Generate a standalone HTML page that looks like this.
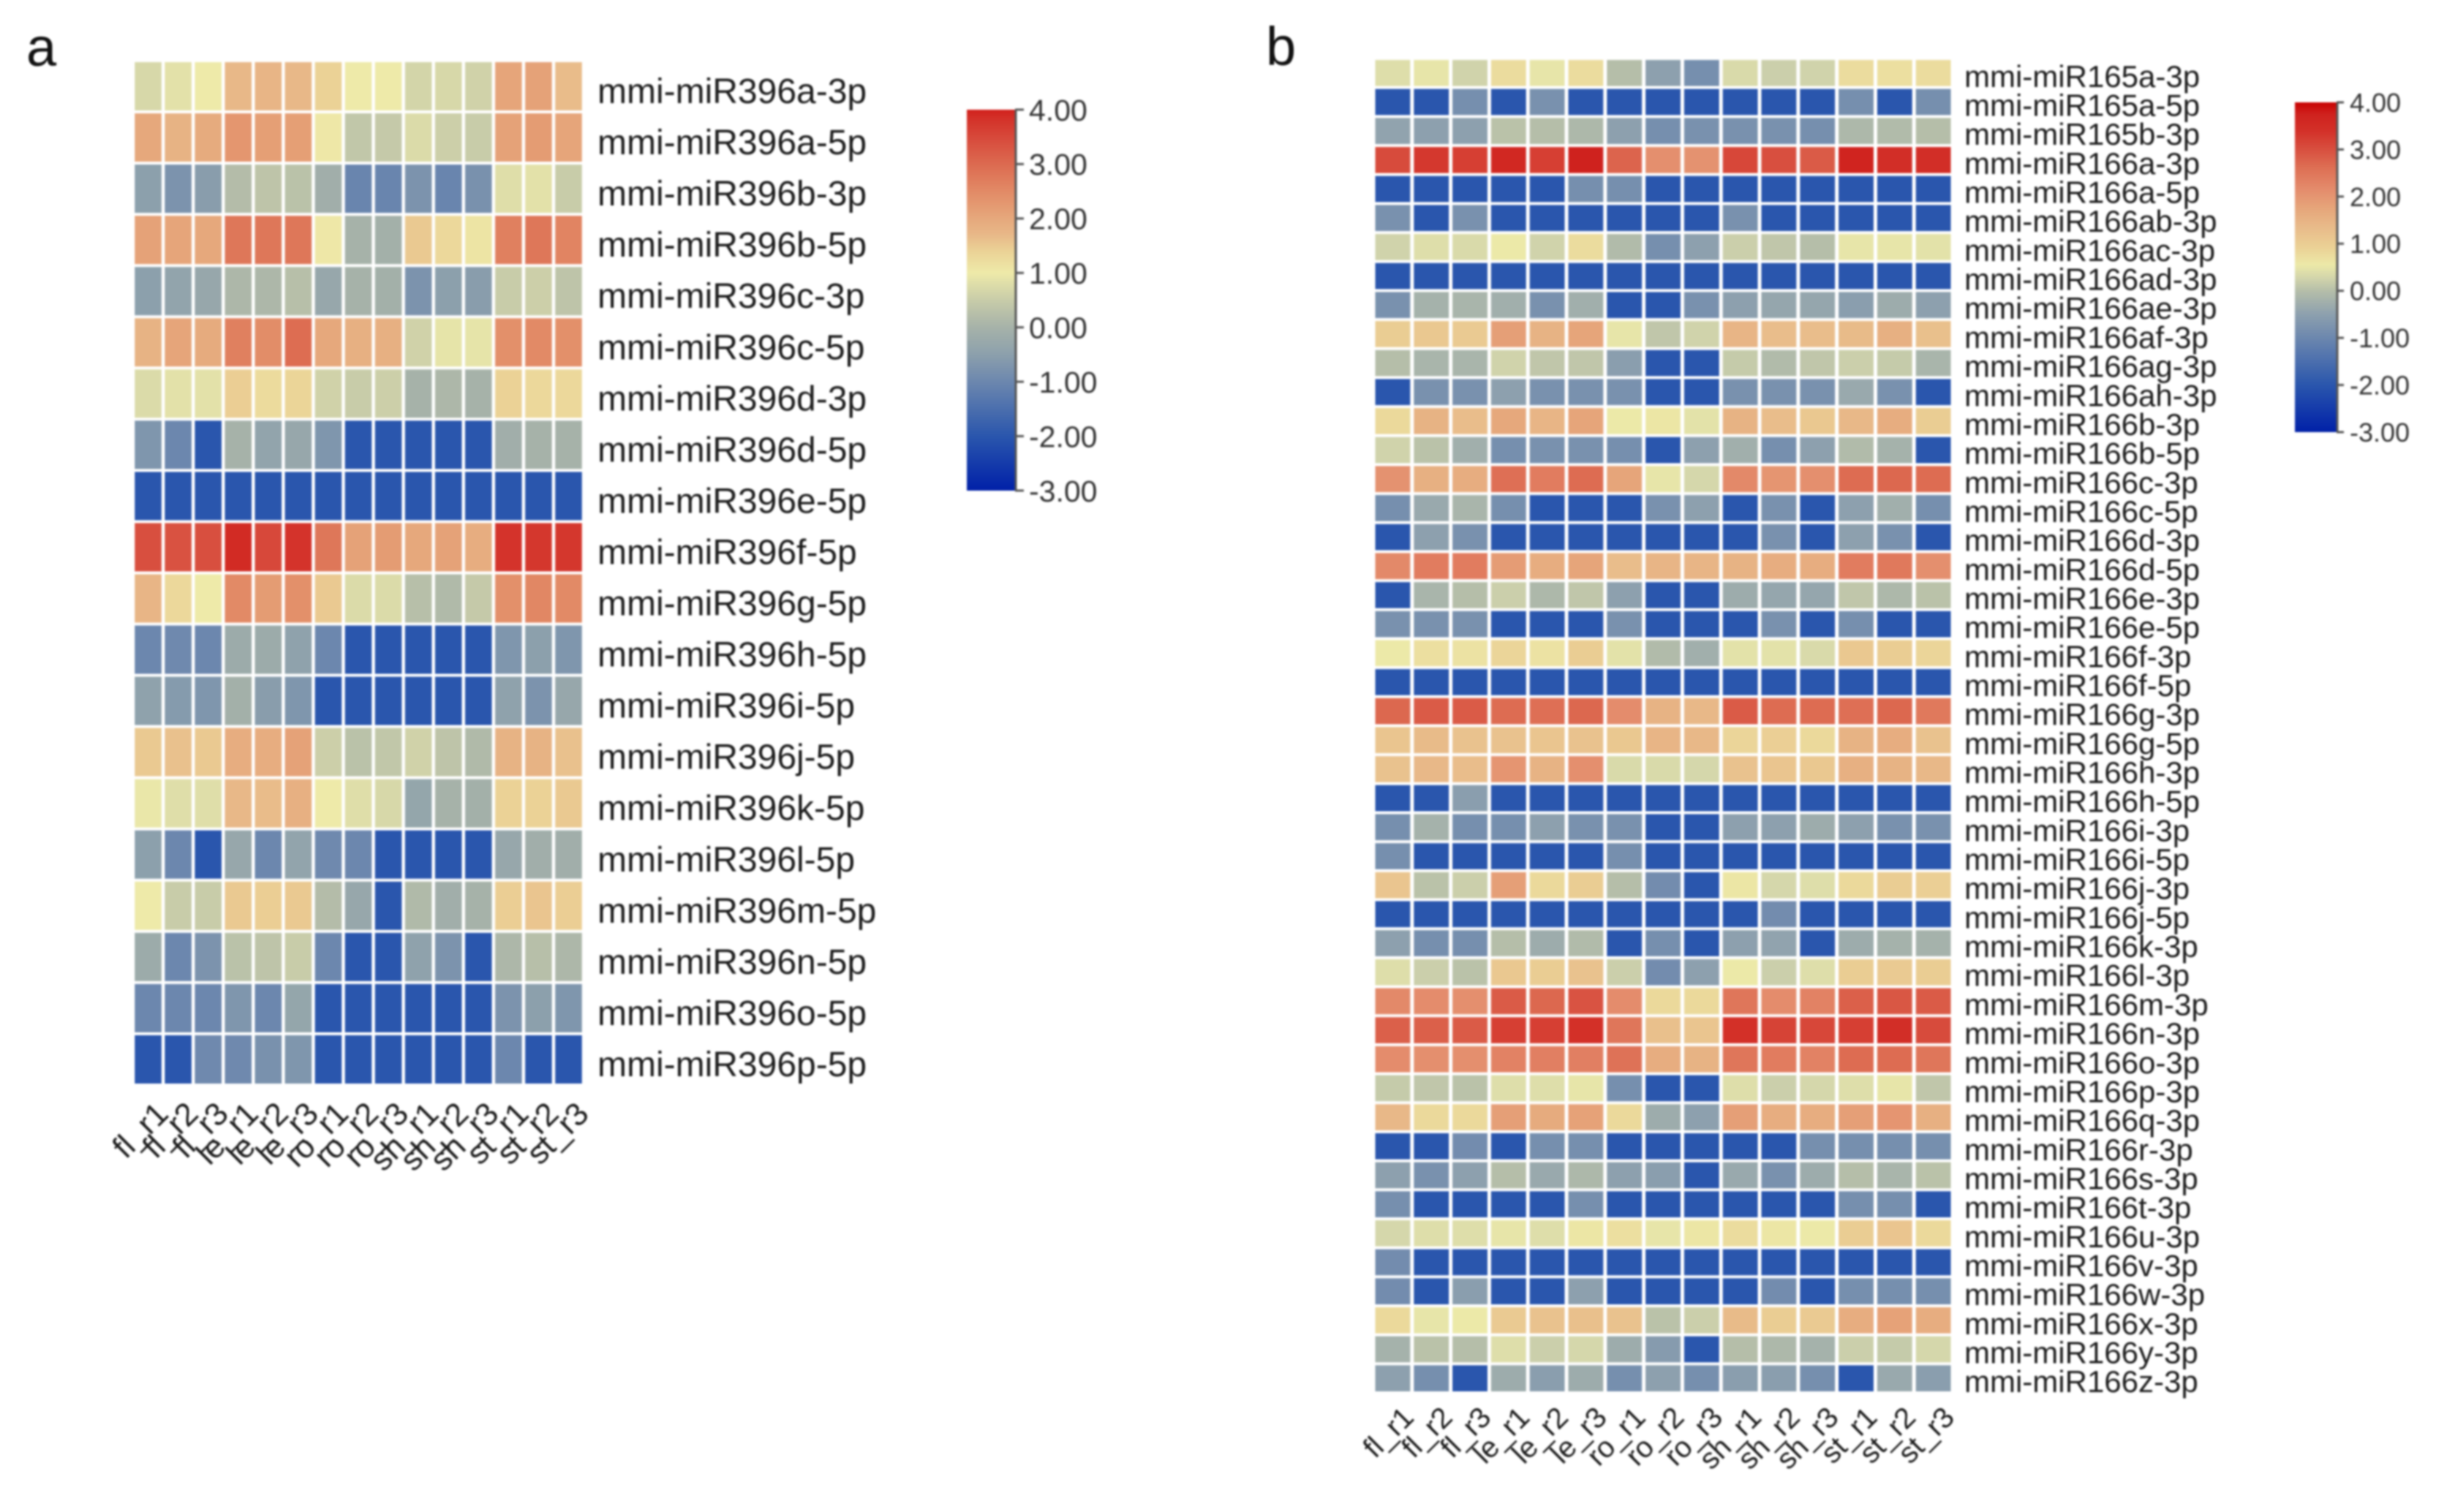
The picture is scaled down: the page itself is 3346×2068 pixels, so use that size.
<!DOCTYPE html>
<html lang="en">
<head>
<meta charset="utf-8">
<title>miR396 and miR165/166 expression heatmaps</title>
<style>
  html, body { margin: 0; padding: 0; background: #fff; }
  body { width: 3346px; height: 2068px; overflow: hidden; }
  svg { display: block; filter: blur(1.4px); }
  text { font-family: "Liberation Sans", sans-serif; }
</style>
</head>
<body>
<svg id="figure" xmlns="http://www.w3.org/2000/svg" width="3346" height="2068" viewBox="0 0 3346 2068">
  <rect x="0" y="0" width="3346" height="2068" fill="#ffffff"/>
  <text x="36" y="90" font-size="74" fill="#111">a</text>
  <text x="1731" y="89" font-size="74" fill="#111">b</text>
</svg>
<script>
const samples = ['fl_r1','fl_r2','fl_r3','le_r1','le_r2','le_r3','ro_r1','ro_r2','ro_r3','sh_r1','sh_r2','sh_r3','st_r1','st_r2','st_r3'];
const legendTicks = [4, 3, 2, 1, 0, -1, -2, -3];

const rowsA = ['mmi-miR396a-3p','mmi-miR396a-5p','mmi-miR396b-3p','mmi-miR396b-5p','mmi-miR396c-3p','mmi-miR396c-5p','mmi-miR396d-3p','mmi-miR396d-5p','mmi-miR396e-5p','mmi-miR396f-5p','mmi-miR396g-5p','mmi-miR396h-5p','mmi-miR396i-5p','mmi-miR396j-5p','mmi-miR396k-5p','mmi-miR396l-5p','mmi-miR396m-5p','mmi-miR396n-5p','mmi-miR396o-5p','mmi-miR396p-5p'];
const valuesA = [
[.7,.85,1,1.7,1.75,1.7,1.4,1,1,.65,.7,.6,2.05,2.1,1.65],
[2,1.8,1.95,2.3,2.15,2.15,1.05,.4,.45,.75,.55,.5,2.1,2.2,2.05],
[-.5,-.75,-.55,.2,.35,.3,-.1,-1.05,-1.05,-.75,-1.05,-.8,.8,.85,.5],
[2.1,2.05,2,2.8,2.8,2.8,1.05,0,-.05,1.5,1.3,1.1,2.65,2.8,2.6],
[-.5,-.4,-.3,.1,.1,.25,-.3,0,-.05,-.75,-.5,-.55,.5,.55,.35],
[1.8,2.05,1.95,2.65,2.45,2.95,2,1.85,1.85,.6,.9,.9,2.4,2.5,2.4],
[.75,.85,.85,1.45,1.25,1.35,.6,.5,.55,0,.1,0,1.4,1.3,1.3],
[-.7,-1,-2,0,-.4,-.3,-.7,-2,-2,-2,-2,-2,-.1,0,0],
[-2,-2,-2,-2,-2,-2,-2,-2,-2,-2,-2,-2,-2,-2,-2],
[3.4,3.35,3.4,3.9,3.5,3.8,2.8,2.1,2.2,2,2.1,1.9,3.8,3.75,3.75],
[1.75,1.3,1,2.5,2.2,2.4,1.5,.75,.75,.25,.15,.45,2.4,2.55,2.5],
[-1,-.95,-1,-.2,-.2,-.45,-1,-2,-2,-2,-2,-2,-.7,-.5,-.7],
[-.45,-.6,-.7,-.05,-.55,-.7,-2,-2,-2,-2,-2,-2,-.45,-.75,-.3],
[1.5,1.6,1.5,1.9,1.9,2.1,.55,.3,.4,.6,.35,.15,1.8,1.8,1.6],
[.95,.8,.8,1.7,1.65,1.85,1,.8,.7,-.35,0,-.05,1.4,1.4,1.5],
[-.5,-1,-2,-.3,-1,-.4,-.95,-1,-2,-2,-2,-2,-.3,-.1,-.1],
[1,.5,.5,1.5,1.45,1.5,.2,-.3,-2,.15,-.1,0,1.45,1.55,1.45],
[-.2,-1,-.75,.3,.35,.5,-1,-2,-2,-.45,-.75,-2,.1,.25,.1],
[-1,-1,-1,-.7,-1,-.35,-2,-2,-2,-2,-2,-2,-.75,-.5,-.7],
[-2,-2,-.95,-.95,-.8,-.7,-2,-2,-2,-2,-2,-2,-1,-2,-2]
];

const rowsB = ['mmi-miR165a-3p','mmi-miR165a-5p','mmi-miR165b-3p','mmi-miR166a-3p','mmi-miR166a-5p','mmi-miR166ab-3p','mmi-miR166ac-3p','mmi-miR166ad-3p','mmi-miR166ae-3p','mmi-miR166af-3p','mmi-miR166ag-3p','mmi-miR166ah-3p','mmi-miR166b-3p','mmi-miR166b-5p','mmi-miR166c-3p','mmi-miR166c-5p','mmi-miR166d-3p','mmi-miR166d-5p','mmi-miR166e-3p','mmi-miR166e-5p','mmi-miR166f-3p','mmi-miR166f-5p','mmi-miR166g-3p','mmi-miR166g-5p','mmi-miR166h-3p','mmi-miR166h-5p','mmi-miR166i-3p','mmi-miR166i-5p','mmi-miR166j-3p','mmi-miR166j-5p','mmi-miR166k-3p','mmi-miR166l-3p','mmi-miR166m-3p','mmi-miR166n-3p','mmi-miR166o-3p','mmi-miR166p-3p','mmi-miR166q-3p','mmi-miR166r-3p','mmi-miR166s-3p','mmi-miR166t-3p','mmi-miR166u-3p','mmi-miR166v-3p','mmi-miR166w-3p','mmi-miR166x-3p','mmi-miR166y-3p','mmi-miR166z-3p'];
const valuesB = [
[.4,.5,.25,.75,.5,.75,0,-.5,-.85,.35,.2,.25,.75,.7,.75],
[-2,-2,-.85,-2,-.8,-2,-2,-2,-2,-2,-2,-2,-.85,-2,-.85],
[-.45,-.5,-.5,.05,0,-.1,-.5,-.85,-.8,-.8,-.8,-.85,-.1,-.05,0],
[3.05,3.3,3.2,3.6,3.2,3.75,2.75,2.1,2.05,3.1,3,2.85,3.7,3.45,3.45],
[-2,-2,-2,-2,-2,-.85,-.85,-2,-2,-2,-2,-2,-2,-2,-2],
[-.8,-2,-.8,-2,-2,-2,-2,-2,-2,-.8,-2,-2,-2,-2,-2],
[.25,.4,.35,.55,.25,.75,-.05,-.85,-.5,.2,.1,0,.5,.5,.45],
[-2,-2,-2,-2,-2,-2,-2,-2,-2,-2,-2,-2,-2,-2,-2],
[-.8,-.2,-.15,-.25,-.8,-.25,-2,-2,-.8,-.5,-.4,-.4,-.55,-.3,-.5],
[1,1.1,1.05,1.85,1.5,1.75,.5,.1,.25,1.45,1.3,1.3,1.35,1.55,1.25],
[0,-.15,-.15,.25,.1,.1,-.55,-2,-2,.15,-.05,.1,.2,.15,-.15],
[-2,-.8,-.8,-.5,-.8,-.8,-.8,-2,-2,-.8,-.8,-.8,-.35,-.8,-2],
[.8,1.5,1.3,1.7,1.45,1.75,.55,.6,.45,1.5,1.3,1.1,1.4,1.6,1],
[.25,.05,-.25,-.85,-.8,-.8,-.85,-2,-.5,-.25,-.85,-.5,-.05,-.2,-2],
[2.05,1.55,1.6,2.6,2.4,2.65,1.75,.5,.3,2.2,2,2.1,2.65,2.7,2.65],
[-.85,-.35,-.15,-.85,-2,-2,-2,-.8,-.5,-2,-.8,-2,-.5,-.25,-.85],
[-2,-.5,-.8,-2,-2,-2,-2,-2,-2,-2,-.8,-2,-.5,-.8,-2],
[2.2,2.4,2.4,1.9,1.6,1.75,1.3,1.45,1.45,1.5,1.6,1.6,2.4,2.45,2.1],
[-2,-.15,0,.2,-.1,.1,-.5,-2,-2,-.3,-.4,-.4,.1,-.1,.05],
[-.8,-.8,-.8,-2,-2,-2,-.8,-2,-2,-2,-.8,-2,-.85,-2,-2],
[.55,.7,.65,.85,.65,1,.45,-.05,-.25,.45,.45,.35,1.1,1,.85],
[-2,-2,-2,-2,-2,-2,-2,-2,-2,-2,-2,-2,-2,-2,-2],
[2.7,2.85,2.85,2.65,2.6,2.7,2.15,1.5,1.4,2.85,2.65,2.65,2.6,2.7,2.45],
[1.15,1.35,1.2,1.2,1.15,1.2,1.1,1.45,1.4,.85,.95,.8,1.5,1.6,1.2],
[1.2,1.4,1.3,2,1.5,2.1,.35,.35,.3,1.2,1.15,1.1,1.55,1.5,1.4],
[-2,-2,-.55,-2,-2,-2,-2,-2,-2,-2,-2,-2,-2,-2,-2],
[-.85,-.2,-.85,-.85,-.5,-.8,-.8,-2,-2,-.5,-.5,-.3,-.5,-.8,-.8],
[-.85,-2,-2,-2,-2,-2,-.85,-2,-2,-2,-2,-2,-2,-2,-2],
[1.15,.05,.2,1.85,.8,1,0,-.9,-2,.6,.3,.4,.8,1,.95],
[-2,-2,-2,-2,-2,-2,-2,-2,-2,-2,-.9,-2,-2,-2,-2],
[-.5,-.85,-.85,0,-.3,-.05,-2,-.85,-2,-.5,-.45,-2,-.3,-.2,-.2],
[.4,.2,.05,1.1,1,1.2,.2,-.9,-.5,.55,.2,.4,1,1.05,1],
[2.2,2.15,2.1,2.85,2.7,2.95,2.15,.8,.8,2.5,2.15,2.3,2.8,2.9,2.85],
[2.8,2.8,2.85,3.2,3.2,3.4,2.5,1.25,1.15,3.4,3.15,3.1,3.2,3.45,3.05],
[2.15,2.1,2.1,2.3,2.35,2.35,2.55,1.6,1.5,2.5,2.4,2.3,2.65,2.65,2.5],
[.15,.1,.05,.4,.4,.5,-.85,-2,-2,.4,.2,.3,.4,.5,.1],
[1.4,.8,.8,1.85,1.65,1.8,.8,-.3,-.5,1.85,1.6,1.6,1.85,2,1.55],
[-2,-2,-.9,-2,-.85,-.85,-2,-2,-2,-2,-2,-.85,-.85,-.85,-.85],
[-.5,-.8,-.5,0,-.35,-.1,-.5,-.55,-2,-.35,-.8,-.3,0,-.15,.05],
[-.85,-2,-2,-2,-2,-.85,-2,-2,-2,-2,-2,-2,-.85,-.85,-2],
[.3,.4,.4,.5,.4,.6,.7,.5,.6,.75,.6,.55,1,1.15,.8],
[-.9,-2,-2,-2,-2,-2,-2,-2,-2,-2,-2,-2,-2,-2,-2],
[-.9,-2,-.55,-2,-2,-.5,-2,-2,-2,-2,-.9,-2,-.85,-.85,-.85],
[.8,.5,.55,1.05,1.2,1.25,1.2,.05,.2,1.35,1,1.05,1.6,1.8,1.6],
[-.2,.05,0,.4,.2,.3,-.3,-.6,-2,0,-.1,-.2,.2,.15,.3],
[-.5,-.85,-2,-.3,-.55,-.3,-.85,-.5,-.85,-.55,-.55,-.85,-2,-.35,-.55]
];

/* Colour ramps: [value, colour] anchors */
const rampA = [[-3,'#0020a8'],[-2,'#2a56ad'],[-1,'#6c87ae'],[-.45,'#8fa2ac'],[0,'#a6b2a9'],[.5,'#c8cca9'],[1,'#eeeaa9'],[1.4,'#ebd296'],[1.7,'#e8b888'],[2,'#e6a87c'],[2.5,'#e28a66'],[3,'#dc6a50'],[3.4,'#d84f3f'],[3.85,'#d33028'],[4,'#d1211c']];
const rampB = [[-3,'#0020a8'],[-2,'#2a56ad'],[-1,'#6c87ae'],[-.5,'#8da0ae'],[0,'#b5bea9'],[.25,'#d0d3ab'],[.55,'#ece9a8'],[.9,'#ebd296'],[1.4,'#e8b888'],[1.7,'#e6a87c'],[2.15,'#e48c6c'],[2.65,'#dd6c52'],[3,'#d84f3f'],[3.4,'#d33028'],[3.75,'#cf221e'],[4,'#c80000']];

const SVG_NS = 'http://www.w3.org/2000/svg';
const figure = document.getElementById('figure');

function make(tag, attrs, parent) {
  const el = document.createElementNS(SVG_NS, tag);
  for (const k in attrs) el.setAttribute(k, attrs[k]);
  parent.appendChild(el);
  return el;
}

function colorFor(ramp, v) {
  const clamped = Math.max(ramp[0][0], Math.min(ramp[ramp.length - 1][0], v));
  for (let i = 1; i < ramp.length; i++) {
    if (clamped <= ramp[i][0]) {
      const [v0, c0] = ramp[i - 1];
      const [v1, c1] = ramp[i];
      const t = (clamped - v0) / (v1 - v0);
      const ch = (c, p) => parseInt(c.substr(p, 2), 16);
      const mix = p => Math.round(ch(c0, p) + (ch(c1, p) - ch(c0, p)) * t);
      return 'rgb(' + mix(1) + ',' + mix(3) + ',' + mix(5) + ')';
    }
  }
  return ramp[ramp.length - 1][1];
}

function drawPanel(cfg) {
  const panel = make('g', {}, figure);
  
  

  const colW = (cfg.right - cfg.left) / cfg.columns.length;
  const rowH = (cfg.bottom - cfg.top) / cfg.rows.length;
  const xAxis = c => cfg.left + c * colW;
  const yAxis = r => cfg.top + r * rowH;

  cfg.values.forEach((row, r) => {
    row.forEach((v, c) => {
      const cell = make('rect', {
        x: xAxis(c) + cfg.gapX / 2,
        y: yAxis(r) + cfg.gapY / 2,
        width: colW - cfg.gapX,
        height: rowH - cfg.gapY,
        fill: colorFor(cfg.ramp, v)
      }, panel);
      
      
    });
  });

  cfg.rows.forEach((name, r) => {
    const label = make('text', {
      x: cfg.right + cfg.labelGap,
      y: yAxis(r) + rowH / 2 + cfg.labelDy,
      'font-size': cfg.labelSize,
      fill: '#1c1c1c'
    }, panel);
    label.textContent = name;
    
    
  });

  cfg.columns.forEach((name, c) => {
    const px = xAxis(c) + colW / 2 + cfg.tickDx;
    const py = cfg.bottom + cfg.tickDy;
    const tick = make('text', {
      x: px,
      y: py,
      'font-size': cfg.tickSize,
      fill: '#1c1c1c',
      'text-anchor': 'end',
      transform: 'rotate(-45 ' + px + ' ' + py + ')'
    }, panel);
    tick.textContent = name;
    
    
  });

  /* colour bar */
  const bar = cfg.bar;
  const yLegend = v => bar.top + (legendTicks[0] - v) / (legendTicks[0] - legendTicks[legendTicks.length - 1]) * (bar.bottom - bar.top);
  const defs = make('defs', {}, panel);
  const grad = make('linearGradient', { id: cfg.key + '-gradient', x1: 0, y1: 1, x2: 0, y2: 0 }, defs);
  const lo = cfg.ramp[0][0];
  const hi = cfg.ramp[cfg.ramp.length - 1][0];
  cfg.ramp.forEach(([v, col]) => {
    make('stop', { offset: (v - lo) / (hi - lo), 'stop-color': col }, grad);
  });
  const barRect = make('rect', {
    x: bar.left, y: bar.top, width: bar.right - bar.left, height: bar.bottom - bar.top,
    fill: 'url(#' + cfg.key + '-gradient)'
  }, panel);
  
  
  const barAxis = make('line', {
    x1: bar.right + 1, x2: bar.right + 1, y1: bar.top, y2: bar.bottom,
    stroke: '#555', 'stroke-width': 3
  }, panel);
  
  

  legendTicks.forEach(v => {
    const y = yLegend(v);
    const mark = make('line', {
      x1: bar.right, x2: bar.right + bar.tickLen, y1: y, y2: y,
      stroke: '#555', 'stroke-width': 3
    }, panel);
    
    
    const txt = make('text', {
      x: bar.labelX, y: y + bar.fontSize * 0.36,
      'font-size': bar.fontSize, fill: '#333'
    }, panel);
    txt.textContent = v.toFixed(2);
    
    
  });
}

drawPanel({
  key: 'panel-a', rows: rowsA, columns: samples, values: valuesA, ramp: rampA,
  left: 182, right: 798, top: 83, bottom: 1484, gapX: 4.5, gapY: 4,
  labelGap: 19, labelDy: 23, labelSize: 48, tickSize: 44, tickDx: 30, tickDy: 42,
  bar: { left: 1322, right: 1388, top: 150, bottom: 671, tickLen: 12, labelX: 1407, fontSize: 41 }
});

drawPanel({
  key: 'panel-b', rows: rowsB, columns: samples, values: valuesB, ramp: rampB,
  left: 1878, right: 2670, top: 80, bottom: 1905, gapX: 5, gapY: 4,
  labelGap: 16, labelDy: 19, labelSize: 42, tickSize: 40, tickDx: 31, tickDy: 36,
  bar: { left: 3138, right: 3195, top: 140, bottom: 591, tickLen: 10, labelX: 3213, fontSize: 36 }
});
</script>
</body>
</html>
